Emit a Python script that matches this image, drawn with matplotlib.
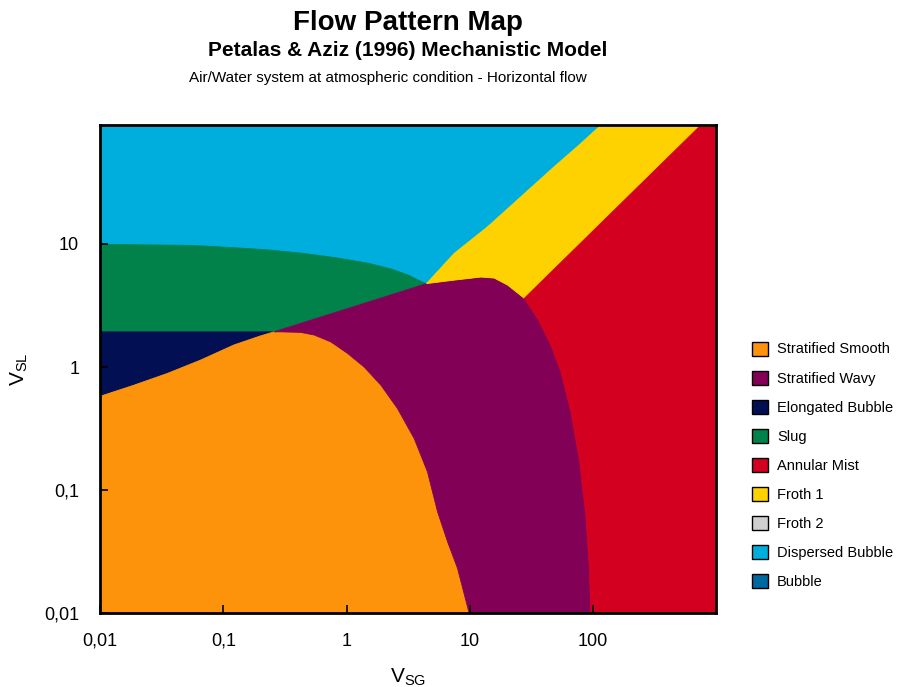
import matplotlib.pyplot as plt
from matplotlib.patches import Patch

plt.rcParams['font.family'] = ['Liberation Sans', 'DejaVu Sans']

XMIN, XMAX = 0.01, 1000
YMIN, YMAX = 0.01, 92

# transition boundaries (vsg, vsl)
db_slug_x = [0.01, 0.0577, 0.139, 0.230, 0.425, 0.787, 1.49, 2.29, 3.15, 4.01, 4.45]
db_slug_y = [9.9, 9.70, 9.23, 8.93, 8.41, 7.76, 6.97, 6.26, 5.60, 4.95, 4.75]

slug_eb_y = 1.93

eb_ss_x = [0.01, 0.0189, 0.0352, 0.0657, 0.122, 0.201, 0.258]
eb_ss_y = [0.578, 0.713, 0.887, 1.14, 1.51, 1.79, 1.93]

ss_sw_x = [0.258, 0.29, 0.425, 0.546, 0.746, 1.02, 1.39, 1.90, 2.59, 3.54, 4.54, 5.48, 6.61, 7.96, 9.9]
ss_sw_y = [1.93, 1.93, 1.91, 1.82, 1.60, 1.29, 1.0, 0.713, 0.461, 0.263, 0.141, 0.0668, 0.0381, 0.0232, 0.01]

sw_top_x = [0.258, 4.45, 7.48, 12.3, 15.8, 20.3, 27.7]
sw_top_y = [1.93, 4.75, 5.07, 5.37, 5.27, 4.62, 3.61]

sw_am_x = [27.7, 35.5, 45.5, 54.8, 66.1, 77.2, 87.5, 93.1, 96.1]
sw_am_y = [3.61, 2.48, 1.51, 0.914, 0.433, 0.181, 0.0628, 0.0247, 0.01]

db_froth_x = [4.45, 7.48, 13.9, 26.0, 48.4, 79.8, 116]
db_froth_y = [4.75, 8.36, 13.7, 24.1, 42.2, 65.3, 92]

froth_am_x = [27.7, 750]
froth_am_y = [3.61, 92]

labels = ['Stratified Smooth', 'Stratified Wavy', 'Elongated Bubble', 'Slug', 'Annular Mist',
          'Froth 1', 'Froth 2', 'Dispersed Bubble', 'Bubble']
colors = ['#FD930A', '#820055', '#020F52', '#00824A', '#D3001F',
          '#FDD200', '#CFCFCF', '#00AEDD', '#0068A0']
col = dict(zip(labels, colors))


def pts(xs, ys):
    return list(zip(xs, ys))


# build the region polygons from the boundaries
regions = {}
regions['Dispersed Bubble'] = [(XMIN, YMAX)] + pts(db_slug_x, db_slug_y) + pts(db_froth_x, db_froth_y)[1:]
regions['Slug'] = pts(db_slug_x, db_slug_y) + pts(sw_top_x, sw_top_y)[1::-1] + [(XMIN, slug_eb_y)]
regions['Elongated Bubble'] = [(XMIN, slug_eb_y)] + pts(eb_ss_x, eb_ss_y)[::-1]
regions['Stratified Smooth'] = pts(eb_ss_x, eb_ss_y) + pts(ss_sw_x, ss_sw_y)[1:] + [(XMIN, YMIN)]
regions['Stratified Wavy'] = pts(ss_sw_x, ss_sw_y)[::-1] + pts(sw_top_x, sw_top_y)[1:] + pts(sw_am_x, sw_am_y)[1:]
regions['Froth 1'] = pts(db_froth_x, db_froth_y) + pts(froth_am_x, froth_am_y)[::-1] + pts(sw_top_x, sw_top_y)[-2:0:-1]
regions['Annular Mist'] = pts(froth_am_x, froth_am_y) + [(XMAX, YMAX), (XMAX, YMIN)] + pts(sw_am_x, sw_am_y)[::-1]

fig = plt.figure(figsize=(9.09, 6.87), dpi=100)
ax = fig.add_axes([0.110, 0.107, 0.678, 0.711])

for name, poly in regions.items():
    xs = [p[0] for p in poly]
    ys = [p[1] for p in poly]
    ax.fill(xs, ys, color=col[name], lw=0.6, ec=col[name])

ax.set_xscale('log')
ax.set_yscale('log')
ax.set_xlim(XMIN, XMAX)
ax.set_ylim(YMIN, YMAX)

ax.set_xticks([0.01, 0.1, 1, 10, 100])
ax.set_xticklabels(['0,01', '0,1', '1', '10', '100'])
ax.set_yticks([0.01, 0.1, 1, 10])
ax.set_yticklabels(['0,01', '0,1', '1', '10'])
ax.minorticks_off()
ax.tick_params(direction='in', length=6, width=1.2, labelsize=13)
ax.tick_params(axis='x', pad=14)
ax.tick_params(axis='y', pad=15)
for s in ax.spines.values():
    s.set_linewidth(2)
    s.set_zorder(5)

ax.set_xlabel(r'V$_{\mathregular{SG}}$', fontsize=15, labelpad=12)
ax.set_ylabel(r'V$_{\mathregular{SL}}$', fontsize=15, labelpad=10)

fig.text(0.449, 0.967, 'Flow Pattern Map', ha='center', va='center', fontsize=20, fontweight='bold')
fig.text(0.449, 0.926, 'Petalas & Aziz (1996) Mechanistic Model', ha='center', va='center',
         fontsize=15, fontweight='bold')
fig.text(0.427, 0.886, 'Air/Water system at atmospheric condition - Horizontal flow', ha='center',
         va='center', fontsize=11)

handles = [Patch(facecolor=c, edgecolor='black', lw=1) for c in colors]
fig.legend(handles, labels, loc='upper left', bbox_to_anchor=(0.813, 0.522), frameon=False,
           fontsize=10.5, handlelength=1.1, handleheight=1.1, handletextpad=0.6, labelspacing=0.97)

fig.savefig('out.png', dpi=100)
